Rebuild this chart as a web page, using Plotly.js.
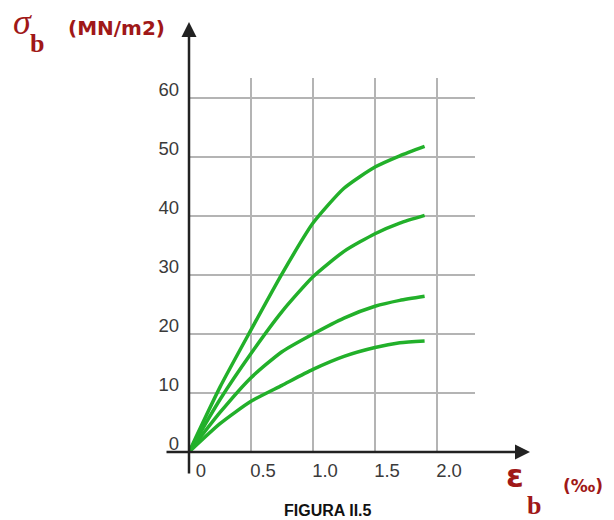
<!DOCTYPE html>
<html>
<head>
<meta charset="utf-8">
<script src="https://cdn.plot.ly/plotly-3.0.1.min.js"></script>
<style>html,body{margin:0;padding:0;background:#fff;}#chart{width:614px;height:520px;}</style>
</head>
<body>
<div id="chart"></div>
<script>
// strain values (‰)
const strain = [0, 0.25, 0.5, 0.75, 1.0, 1.25, 1.5, 1.7, 1.9];
// stress curves (MN/m2)
const curve1 = [0, 11.0, 20.7, 30.2, 38.8, 44.7, 48.3, 50.2, 51.8];
const curve2 = [0, 8.9, 16.7, 23.8, 29.7, 34.0, 37.0, 38.8, 40.1];
const curve3 = [0, 6.7, 12.6, 17.0, 20.0, 22.7, 24.7, 25.7, 26.4];
const curve4 = [0, 4.8, 8.6, 11.3, 14.0, 16.2, 17.7, 18.5, 18.8];
const curves = [curve1, curve2, curve3, curve4];

const xTicks = [0, 0.5, 1.0, 1.5, 2.0];
const xTickText = ['0', '0.5', '1.0', '1.5', '2.0'];
const yTicks = [0, 10, 20, 30, 40, 50, 60];
const yTickText = ['0', '10', '20', '30', '40', '50', '60'];

const yTitle = 'σ';
const yTitleSub = 'b';
const yUnit = '(MN/m2)';
const xTitle = 'ε';
const xTitleSub = 'b';
const xUnit = '(‰)';
const caption = 'FIGURA II.5';

// plot area geometry (pixels)
const L = 189, T = 78, R = 475, B = 452;
const W = R - L, H = B - T;
function px(x) { return (x - L) / W; }
function py(y) { return (B - y) / H; }

const green = '#22b02a';
const red = '#a01818';

const traces = curves.map(c => ({
  x: strain, y: c, type: 'scatter', mode: 'lines',
  line: {color: green, width: 3.5, shape: 'spline', smoothing: 0.6},
  hoverinfo: 'skip', showlegend: false
}));

const tickFont = {family: 'Liberation Sans, Arial, sans-serif', size: 18.5, color: '#3a3a3a'};

const layout = {
  width: 614, height: 520,
  margin: {l: L, r: 614 - R, t: T, b: 520 - B},
  paper_bgcolor: '#fff', plot_bgcolor: '#fff',
  showlegend: false,
  xaxis: {
    range: [0, W / 124], tickvals: xTicks, ticktext: xTickText,
    showgrid: true, gridcolor: '#b4b4b4', gridwidth: 2,
    zeroline: false, showline: false, ticks: '',
    tickfont: tickFont, ticklabelshift: 12, ticklabelstandoff: 5,
    fixedrange: true
  },
  yaxis: {
    range: [0, H / 5.9], tickvals: yTicks, ticktext: yTickText,
    showgrid: true, gridcolor: '#b4b4b4', gridwidth: 2,
    zeroline: false, showline: false, ticks: '',
    tickfont: tickFont, ticklabelshift: -8, ticklabelstandoff: 9,
    fixedrange: true
  },
  annotations: [
    // y axis arrow
    {xref: 'paper', yref: 'paper', x: px(189), y: py(22), ax: 0, ay: 475 - 22,
     axref: 'pixel', ayref: 'pixel', text: '', showarrow: true,
     arrowhead: 2, arrowsize: 1.2, arrowwidth: 2.5, arrowcolor: '#222'},
    // x axis arrow
    {xref: 'paper', yref: 'paper', x: px(530), y: py(452), ax: -(530 - 165), ay: 0,
     axref: 'pixel', ayref: 'pixel', text: '', showarrow: true,
     arrowhead: 2, arrowsize: 1.2, arrowwidth: 2.5, arrowcolor: '#222'},
    {xref: 'paper', yref: 'paper', x: px(22), y: py(22), xanchor: 'center', yanchor: 'middle',
     text: '<i>' + yTitle + '</i>', showarrow: false,
     font: {family: 'Liberation Serif, serif', size: 36, color: red}},
    {xref: 'paper', yref: 'paper', x: px(37), y: py(43), xanchor: 'center', yanchor: 'middle',
     text: '<b>' + yTitleSub + '</b>', showarrow: false,
     font: {family: 'Liberation Serif, serif', size: 26, color: red}},
    {xref: 'paper', yref: 'paper', x: px(116), y: py(28), xanchor: 'center', yanchor: 'middle',
     text: '<b>' + yUnit + '</b>', showarrow: false,
     font: {family: 'DejaVu Sans, sans-serif', size: 20, color: red}},
    {xref: 'paper', yref: 'paper', x: px(515), y: py(476), xanchor: 'center', yanchor: 'middle',
     text: '<b>' + xTitle + '</b>', showarrow: false,
     font: {family: 'DejaVu Sans, sans-serif', size: 32, color: red}},
    {xref: 'paper', yref: 'paper', x: px(534), y: py(506), xanchor: 'center', yanchor: 'middle',
     text: '<b>' + xTitleSub + '</b>', showarrow: false,
     font: {family: 'Liberation Serif, serif', size: 26, color: red}},
    {xref: 'paper', yref: 'paper', x: px(583), y: py(486), xanchor: 'center', yanchor: 'middle',
     text: '<b>' + xUnit + '</b>', showarrow: false,
     font: {family: 'DejaVu Sans, sans-serif', size: 17, color: red}},
    {xref: 'paper', yref: 'paper', x: px(328), y: py(500), xanchor: 'center', yanchor: 'top',
     text: '<b>' + caption + '</b>', showarrow: false,
     font: {family: 'Liberation Sans, Arial, sans-serif', size: 16, color: '#111'}}
  ]
};

Plotly.newPlot('chart', traces, layout, {staticPlot: true, displayModeBar: false});
</script>
</body>
</html>
